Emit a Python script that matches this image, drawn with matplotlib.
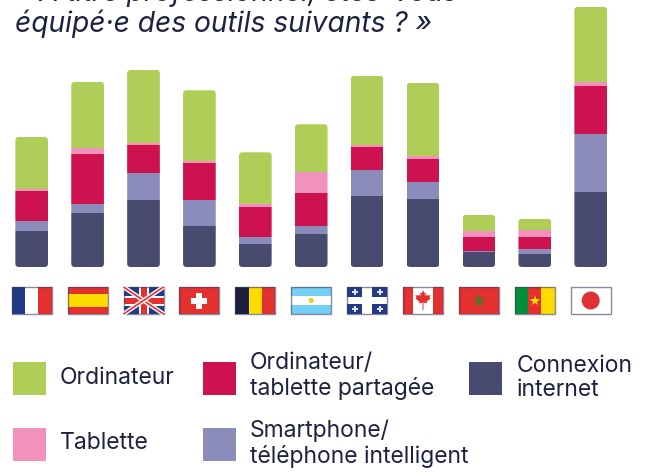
import numpy as np
import matplotlib
matplotlib.use('Agg')
import matplotlib.pyplot as plt
from matplotlib.patches import Rectangle, Circle, FancyBboxPatch, Polygon
from matplotlib.transforms import IdentityTransform

# Values (no axis in the original, so pixel heights)
countries = ['France', 'Espagne', 'Royaume-Uni', 'Suisse', 'Belgique', 'Argentine',
             'Québec', 'Canada', 'Maroc', 'Cameroun', 'Japon']
connexion = [36, 54, 67, 41.3, 22.7, 32.7, 71, 67.7, 14.7, 13.3, 74.7]
smartphone = [10, 9, 27, 25.7, 7.3, 8.3, 26, 17.3, 1.3, 4.7, 58.3]
partagee = [30, 50, 28, 37, 30, 33, 23, 23, 14, 12, 48]
tablette = [2, 6, 2, 2, 3.3, 21, 2, 3, 6, 7, 3.7]
ordinateur = [52, 66, 73, 70.7, 51.4, 47.7, 69, 73, 16, 11.3, 75.3]

series = [connexion, smartphone, partagee, tablette, ordinateur]
colors = ['#484A70', '#8C8CBB', '#CE1250', '#F291BB', '#AFCE57']
text_color = '#1E2140'

plt.rcParams['font.family'] = ['Inter', 'DejaVu Sans']

W, H = 651, 472
fig = plt.figure(figsize=(W / 100, H / 100), dpi=100)

# Bars: x axis in category steps (55.9 px), y axis in px, baseline at y=267
x0, step = 31.7, 55.9
ax = fig.add_axes([0, (H - 267) / H, 1, 267 / H])
ax.set_xlim(-x0 / step, (W - x0) / step)
ax.set_ylim(0, 267)
ax.axis('off')

x = np.arange(len(countries))
width = 0.585
bottom = np.zeros(len(countries))
bars = []
for vals, c in zip(series, colors):
    bars.append(ax.bar(x, vals, width, bottom=bottom, color=c, linewidth=0))
    bottom += np.array(vals)

# rounded corners on each whole stack
fig.canvas.draw()
rad = 3.5
for i in range(len(countries)):
    (px0, py0) = ax.transData.transform((x[i] - width / 2, 0))
    (px1, py1) = ax.transData.transform((x[i] + width / 2, bottom[i]))
    clip = FancyBboxPatch((px0 + rad, py0 + rad), px1 - px0 - 2 * rad, py1 - py0 - 2 * rad,
                          boxstyle='round,pad=%f,rounding_size=%f' % (rad, rad),
                          transform=IdentityTransform())
    for b in bars:
        b[i].set_clip_path(clip)

# Overlay in pixel coords for title, flags and legend
ov = fig.add_axes([0, 0, 1, 1])
ov.set_xlim(0, W)
ov.set_ylim(H, 0)
ov.axis('off')
ov.patch.set_alpha(0)

# first title line is cropped by the top edge in the reference too
ov.text(15, 1, '« À titre professionnel, êtes-vous', fontsize=20.3, style='italic',
        color=text_color, ha='left', va='baseline')
ov.text(15, 32, 'équipé·e des outils suivants ? »', fontsize=20.3, style='italic',
        color=text_color, ha='left', va='baseline')


def rect(x, y, w, h, c, **kw):
    ov.add_patch(Rectangle((x, y), w, h, facecolor=c, linewidth=0, **kw))


RED = '#E53030'
BLUE = '#233A86'
YEL = '#FFDC00'
FW, FH = 40, 27
FY = 287


def flag_france(l):
    rect(l, FY, FW / 3, FH, BLUE)
    rect(l + FW / 3, FY, FW / 3, FH, 'white')
    rect(l + 2 * FW / 3, FY, FW / 3, FH, RED)


def flag_spain(l):
    rect(l, FY, FW, FH, RED)
    rect(l, FY + FH / 4, FW, FH / 2, YEL)


def flag_uk(l):
    rect(l, FY, FW, FH, BLUE)
    box = Rectangle((l, FY), FW, FH, transform=ov.transData)
    for a, b in [((l, FY), (l + FW, FY + FH)), ((l, FY + FH), (l + FW, FY))]:
        ov.plot([a[0], b[0]], [a[1], b[1]], color='white', lw=3.2, solid_capstyle='butt', clip_path=box)
        ov.plot([a[0], b[0]], [a[1], b[1]], color=RED, lw=1.2, solid_capstyle='butt', clip_path=box)
    rect(l + FW / 2 - 5, FY, 10, FH, 'white')
    rect(l, FY + FH / 2 - 5, FW, 10, 'white')
    rect(l + FW / 2 - 3, FY, 6, FH, RED)
    rect(l, FY + FH / 2 - 3, FW, 6, RED)


def flag_swiss(l):
    rect(l, FY, FW, FH, RED)
    rect(l + FW / 2 - 8, FY + FH / 2 - 3, 16, 6, 'white')
    rect(l + FW / 2 - 3, FY + FH / 2 - 8, 6, 16, 'white')


def flag_belgium(l):
    rect(l, FY, FW / 3, FH, '#1B1F3B')
    rect(l + FW / 3, FY, FW / 3, FH, YEL)
    rect(l + 2 * FW / 3, FY, FW / 3, FH, RED)


def flag_argentina(l):
    rect(l, FY, FW, FH / 3, '#74CFF5')
    rect(l, FY + FH / 3, FW, FH / 3, 'white')
    rect(l, FY + 2 * FH / 3, FW, FH / 3, '#74CFF5')
    ov.add_patch(Circle((l + FW / 2, FY + FH / 2), 2.6, facecolor='#F5C93A', linewidth=0))


def flag_quebec(l):
    rect(l, FY, FW, FH, BLUE)
    rect(l + FW / 2 - 5, FY, 10, FH, 'white')
    rect(l, FY + FH / 2 - 3.5, FW, 7, 'white')
    for dx in (-FW / 3.2, FW / 3.2):
        for dy in (-FH / 3.3, FH / 3.3):
            ov.plot(l + FW / 2 + dx, FY + FH / 2 + dy, marker='P', ms=4.5, color='#DDE3F2', mew=0)


leaf_half = [(0, 1), (0.18, 0.68), (0.32, 0.78), (0.24, 0.35), (0.45, 0.58), (0.52, 0.42),
             (0.85, 0.5), (0.72, 0.2), (0.85, 0.12), (0.4, -0.25), (0.45, -0.42), (0, -0.35)]


def flag_canada(l):
    rect(l, FY, FW, FH, 'white')
    rect(l, FY, FW / 4, FH, RED)
    rect(l + 3 * FW / 4, FY, FW / 4, FH, RED)
    cx, cy = l + FW / 2, FY + FH / 2 - 1
    pts = leaf_half + [(-a, b) for a, b in leaf_half[-2:0:-1]]
    ov.add_patch(Polygon([(cx + 9 * a, cy - 9 * b) for a, b in pts], facecolor=RED, linewidth=0))
    rect(cx - 0.6, cy + 3, 1.2, 7, '#F0A0A0')


def flag_morocco(l):
    rect(l, FY, FW, FH, RED)
    ov.plot(l + FW / 2, FY + FH / 2, marker='*', ms=11, color='#5E6B2E', mew=0)


def flag_cameroon(l):
    rect(l, FY, FW / 3, FH, '#008F3A')
    rect(l + FW / 3, FY, FW / 3, FH, RED)
    rect(l + 2 * FW / 3, FY, FW / 3, FH, YEL)
    ov.plot(l + FW / 2, FY + FH / 2, marker='*', ms=8, color=YEL, mew=0)


def flag_japan(l):
    rect(l, FY, FW, FH, 'white')
    ov.add_patch(Circle((l + FW / 2, FY + FH / 2), 9, facecolor='#DF3034', linewidth=0))


flags = [flag_france, flag_spain, flag_uk, flag_swiss, flag_belgium, flag_argentina,
         flag_quebec, flag_canada, flag_morocco, flag_cameroon, flag_japan]
for i, f in enumerate(flags):
    l = x0 + i * step - FW / 2
    f(l)
    ov.add_patch(Rectangle((l, FY), FW, FH, fill=False, edgecolor='#3A3D5E', linewidth=1, alpha=0.6))

# Legend
legend_labels = ['Ordinateur', 'Tablette', 'Ordinateur/\ntablette partagée',
                 'Smartphone/\ntéléphone intelligent', 'Connexion\ninternet']
legend_colors = ['#AFCE57', '#F291BB', '#CE1250', '#8C8CBB', '#484A70']
legend_sq = [(13, 362), (13, 428), (203, 362), (203, 428), (469, 362)]
legend_txt = [(60, 378), (60, 443), (250, 376), (250, 444), (517, 378)]

for lab, c, (sx, sy), (tx, ty) in zip(legend_labels, legend_colors, legend_sq, legend_txt):
    rect(sx, sy, 33, 33, c)
    ov.text(tx, ty, lab, fontsize=16.5, color=text_color, ha='left', va='center', linespacing=1.15)

fig.savefig('out.png', dpi=100)
